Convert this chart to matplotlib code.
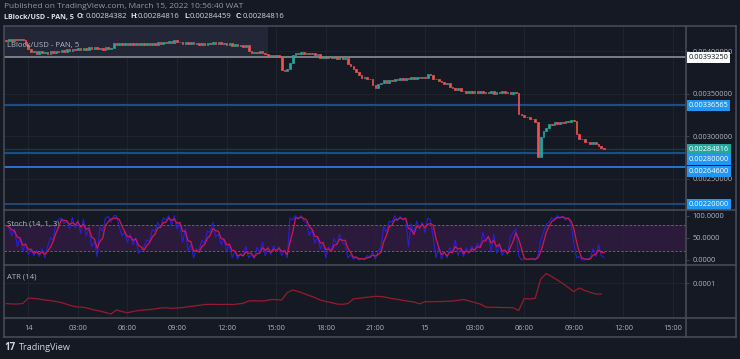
import numpy as np
import pandas as pd
import matplotlib
matplotlib.use('Agg')
from matplotlib import pyplot as plt
from matplotlib.patches import Rectangle
from matplotlib.lines import Line2D

plt.rcParams['font.family'] = ['Open Sans', 'DejaVu Sans']

# 10-minute closes, in 1e-6 USD
close_u = [
    4125, 4150, 4128, 4148, 4130, 4152, 4135, 4080, 4025, 3990,
    4005, 3975, 4000, 3978, 3998, 3972, 4005, 3980, 4010, 3992,
    4022, 3998, 4030, 4005, 4035, 4012, 4040, 4015, 4045, 4020,
    4050, 4025, 4052, 4030, 4045, 4022, 4048, 4025, 4045, 4105,
    4080, 4100, 4078, 4098, 4075, 4096, 4080, 4102, 4078, 4100,
    4076, 4102, 4080, 4105, 4082, 4108, 4085, 4115, 4098, 4125,
    4105, 4130, 4108, 4115, 4092, 4112, 4088, 4108, 4085, 4105,
    4080, 4102, 4082, 4104, 4086, 4108, 4088, 4110, 4085, 4105,
    4075, 4095, 4065, 4085, 4060, 4080, 4058, 4078, 4010, 3985,
    3998, 3980, 4010, 3985, 3970, 3940, 3958, 3935, 3955, 3930,
    3785, 3765, 3795, 3870, 3955, 3985, 3968, 3990, 3970, 3988,
    3970, 3985, 3960, 3965, 3925, 3940, 3922, 3938, 3918, 3935,
    3915, 3932, 3912, 3928, 3850, 3825, 3790, 3755, 3720, 3690,
    3700, 3680, 3675, 3605, 3570, 3615, 3630, 3660, 3635, 3668,
    3655, 3680, 3660, 3685, 3670, 3690, 3675, 3695, 3678, 3698,
    3685, 3700, 3690, 3735, 3725, 3680, 3675, 3652, 3645, 3618,
    3628, 3585, 3570, 3548, 3565, 3538, 3535, 3515, 3530, 3512,
    3532, 3510, 3530, 3508, 3528, 3512, 3530, 3505, 3528, 3510,
    3530, 3508, 3525, 3505, 3522, 3515, 3260, 3248, 3225, 3235,
    3205, 3200, 3170, 2760, 2990, 3065, 3105, 3145, 3140, 3165,
    3150, 3172, 3160, 3178, 3170, 3190, 3178, 3025, 2970, 2965,
    2930, 2935, 2915, 2930, 2912, 2885, 2865, 2848,
]
first_open_u = 4130

# stochastic %K per bar
stoch_k = [
    78, 72, 55, 70, 30, 50, 20, 38, 12, 24,
    10, 22, 8, 25, 5, 30, 50, 45, 85, 92,
    95, 82, 88, 70, 96, 72, 90, 60, 92, 55,
    70, 30, 42, 8, 75, 65, 95, 98, 85, 100,
    100, 75, 55, 62, 40, 58, 35, 50, 15, 22,
    30, 45, 42, 68, 65, 85, 72, 95, 90, 100,
    78, 100, 70, 85, 40, 70, 20, 35, 5, 25,
    22, 45, 38, 65, 62, 85, 52, 58, 35, 48,
    20, 38, 5, 20, 2, 15, 10, 30, 5, 12,
    3, 28, 15, 40, 10, 30, 12, 32, 18, 30,
    10, 22, 5, 95, 90, 100, 92, 100, 88, 85,
    55, 68, 38, 52, 25, 40, 5, 30, 22, 48,
    35, 58, 40, 35, 5, 12, 2, 6, 0, 3,
    2, 10, 6, 18, 2, 20, 28, 75, 62, 88,
    85, 100, 88, 98, 90, 95, 30, 82, 60, 88,
    70, 85, 62, 95, 90, 50, 5, 30, 2, 20,
    5, 28, 18, 45, 10, 25, 8, 28, 15, 32,
    20, 38, 28, 62, 42, 55, 18, 58, 15, 35,
    10, 22, 12, 52, 62, 70, 10, 0, 3, 1,
    2, 4, 0, 10, 45, 62, 80, 85, 95, 92,
    100, 95, 98, 90, 95, 80, 40, 5, 8, 0,
    0, 3, 5, 25, 8, 35, 10, 5,
]

# ATR(14) every second bar, in 1e-7 USD
atr_u = [
    697, 690, 690, 697, 780, 772, 765, 750, 742, 727,
    712, 685, 660, 645, 640, 622, 600, 585, 562, 540,
    600, 577, 559, 577, 592, 600, 607, 617, 630, 634,
    625, 630, 637, 649, 660, 670, 682, 685, 685, 682,
    685, 682, 690, 700, 735, 739, 735, 739, 757, 757,
    750, 862, 900, 877, 847, 817, 787, 750, 727, 712,
    690, 685, 697, 767, 775, 787, 795, 805, 802, 790,
    772, 760, 745, 730, 720, 692, 724, 724, 727, 727,
    731, 735, 745, 757, 737, 712, 690, 645, 640, 640,
    637, 637, 634, 592, 772, 765, 775, 1064, 1147, 1102,
    1050, 997, 937, 877, 930, 892, 865, 840, 840,
]

last_price = 0.00284816
gray_level = 0.0039325
blue_levels = [0.00336565, 0.0028, 0.002646, 0.0022]
rect_end_hour = 14.5

tick_hours = list(range(0, 40, 3))
tick_labels = ['14', '03:00', '06:00', '09:00', '12:00', '15:00', '18:00', '21:00',
               '15', '03:00', '06:00', '09:00', '12:00', '15:00']

BG = '#151924'
GRID = '#22262f'
FRAME = '#4a4e59'
TXT = '#b2b5be'
UP = '#26a69a'
DOWN = '#ef5350'

times = pd.date_range('2022-03-13 22:40', periods=len(close_u), freq='10min')
hours = ((times - pd.Timestamp('2022-03-14')) / pd.Timedelta(hours=1)).to_numpy()
close = np.array(close_u) * 1e-6
opn = np.r_[first_open_u * 1e-6, close[:-1]]
kk = pd.Series(stoch_k, dtype=float)
dd = kk.rolling(3, min_periods=1).mean()
atr = np.array(atr_u) * 1e-7
atr_hours = hours[::2]

W, H = 740, 359
fx = lambda px: px / W
fy = lambda py: 1 - py / H

fig = plt.figure(figsize=(7.4, 3.59), dpi=100, facecolor=BG)
L, R = 4, 686
ax = fig.add_axes([fx(L), fy(210), fx(R) - fx(L), (210 - 26) / H])
ax_s = fig.add_axes([fx(L), fy(265), fx(R) - fx(L), (265 - 210) / H], sharex=ax)
ax_a = fig.add_axes([fx(L), fy(318), fx(R) - fx(L), (318 - 265) / H], sharex=ax)

xlim = (-1.47, 39.79)
for a in (ax, ax_s, ax_a):
    a.set_facecolor(BG)
    for s in a.spines.values():
        s.set_visible(False)
    a.set_xticks(tick_hours)
    a.grid(True, color=GRID, lw=0.6)
    a.set_axisbelow(True)
    a.yaxis.tick_right()
    a.tick_params(axis='y', colors=FRAME, labelcolor=TXT, labelsize=5.3, length=2.5, width=0.6, pad=2)
    a.tick_params(axis='x', length=0, labelbottom=False)
ax.set_xlim(*xlim)

# --- price panel
ax.set_ylim(0.002135, 0.0043)
ax.set_yticks([0.0025, 0.0030, 0.0035, 0.0040])
ax.yaxis.set_major_formatter(plt.FormatStrFormatter('%.8f'))
ax.add_patch(Rectangle((xlim[0], gray_level), rect_end_hour - xlim[0], 0.0043 - gray_level,
                       facecolor='#222637', edgecolor='none', zorder=0.5))
ax.axhline(gray_level, color='#9598a1', lw=1.1, zorder=1)
ax.axhline(last_price, color='#1b3a3c', lw=1.0, zorder=1)
ax.axhline(blue_levels[0], color='#1f4d7f', lw=1.6, zorder=1)
ax.axhline(blue_levels[1], color='#1f4d7f', lw=1.6, zorder=1)
ax.axhline(blue_levels[2], color='#2b7cd0', lw=1.3, zorder=1)
ax.axhline(blue_levels[3], color='#1f4d7f', lw=1.3, zorder=1)

up = close >= opn
cols = np.where(up, UP, DOWN)
ax.bar(hours, np.abs(close - opn), bottom=np.minimum(opn, close), width=0.1,
       color=cols, edgecolor=cols, linewidth=0.5, zorder=3)

def price_label(y, text, fc, tc='white', dy=0):
    ax.annotate(text, xy=(1, y), xycoords=('axes fraction', 'data'), xytext=(2, dy),
                textcoords='offset points', ha='left', va='center', fontsize=5.3,
                color=tc, annotation_clip=False, zorder=10,
                bbox=dict(boxstyle='square,pad=0.25', fc=fc, ec='none'))

price_label(gray_level, '%.8f' % gray_level, 'white', tc='#131722')
price_label(blue_levels[0], '%.8f' % blue_levels[0], '#2196f3')
price_label(last_price, '%.8f' % last_price, UP)
price_label(blue_levels[1], '%.8f' % blue_levels[1], '#2196f3', dy=-4.3)
price_label(blue_levels[2], '%.8f' % blue_levels[2], '#2196f3', dy=-3.4)
price_label(blue_levels[3], '%.8f' % blue_levels[3], '#2196f3')
ax.text(0.005, 0.885, 'LBlock/USD - PAN, 5', transform=ax.transAxes, fontsize=5.6, color=TXT)

# --- stochastic panel
ax_s.set_ylim(-11.3, 112.9)
ax_s.set_yticks([0, 50, 100])
ax_s.yaxis.set_major_formatter(plt.FormatStrFormatter('%.4f'))
ax_s.grid(False, axis='y')
ax_s.axhspan(20, 80, color='#2c1a3c', lw=0, zorder=0.5)
ax_s.axhline(80, color='#6a6d78', lw=0.6, ls=(0, (3, 2)), zorder=1)
ax_s.axhline(20, color='#6a6d78', lw=0.6, ls=(0, (3, 2)), zorder=1)
ax_s.plot(hours, kk, color='#2a1fd6', lw=0.8, zorder=3)
ax_s.plot(hours, dd, color='#d1184a', lw=0.9, zorder=4)
ax_s.text(0.005, 0.72, 'Stoch (14, 1, 3)', transform=ax_s.transAxes, fontsize=5.6, color=TXT)

# --- ATR panel
ax_a.set_ylim(0.0000480, 0.0001275)
ax_a.set_yticks([0.0001])
ax_a.yaxis.set_major_formatter(plt.FormatStrFormatter('%.4f'))
ax_a.plot(atr_hours, atr, color='#951c2c', lw=0.9, zorder=3)
ax_a.text(0.005, 0.74, 'ATR (14)', transform=ax_a.transAxes, fontsize=5.6, color=TXT)
ax_a.tick_params(axis='x', labelbottom=True, labelsize=5.3, labelcolor=TXT, pad=5)
ax_a.set_xticklabels(tick_labels)

# frame lines
def hline(py, x0=4, x1=736):
    fig.add_artist(Line2D([fx(x0), fx(x1)], [fy(py), fy(py)], color=FRAME, lw=1.1))
def vline(px, y0=26, y1=337):
    fig.add_artist(Line2D([fx(px), fx(px)], [fy(y0), fy(y1)], color=FRAME, lw=1.1))
for py in (26, 210, 265, 318, 337):
    hline(py)
for px in (4, 686, 736):
    vline(px)

# header / footer
fig.text(fx(4), fy(7), 'Published on TradingView.com, March 15, 2022 10:56:40 WAT',
         fontsize=6.0, color='#9598a1', va='center')
y2 = fy(17)
fig.text(fx(4), y2, 'LBlock/USD - PAN, 5', fontsize=5.1, color='#e0e3eb', weight='bold', va='center')
for x0, lab, x1, val in [(77, 'O:', 86, '0.00284382'), (130, 'H:', 138, '0.00284816'),
                         (184, 'L:', 190, '0.00284459'), (236, 'C:', 243, '0.00284816')]:
    fig.text(fx(x0), y2, lab, fontsize=5.3, color='#e0e3eb', weight='bold', va='center')
    fig.text(fx(x1), y2, val, fontsize=5.6, color='#d1d4dc', va='center')
fig.text(fx(4), fy(348), '17', fontsize=7, color='#d1d4dc', weight='bold', va='center')
fig.text(fx(19), fy(348), 'TradingView', fontsize=6.6, color='#d1d4dc', va='center')

fig.savefig('out.png', dpi=100, facecolor=BG)
